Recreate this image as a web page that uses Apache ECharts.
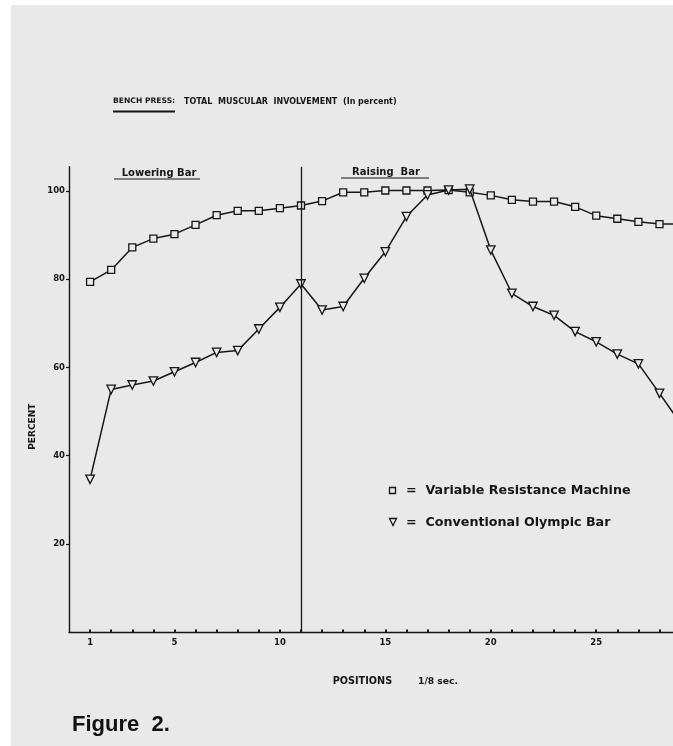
<!DOCTYPE html>
<html>
<head>
<meta charset="utf-8">
<script src="https://cdn.jsdelivr.net/npm/echarts@6/dist/echarts.min.js"></script>
<style>
html,body{margin:0;padding:0;background:#ffffff;}
#chart{width:673px;height:746px;}
</style>
</head>
<body>
<div id="chart"></div>
<script>
// ---- data ----
const positions = [1,2,3,4,5,6,7,8,9,10,11,12,13,14,15,16,17,18,19,20,21,22,23,24,25,26,27,28,29];
const variableResistance = [79.4,82.1,87.2,89.2,90.2,92.3,94.5,95.5,95.5,96.1,96.7,97.7,99.7,99.7,100.1,100.1,100.1,100.2,99.7,99.0,98.0,97.6,97.6,96.4,94.4,93.7,93.0,92.5,92.5];
const olympicBar = [34.6,55.0,56.0,56.9,59.0,61.1,63.4,63.8,68.7,73.6,78.9,73.0,73.8,80.2,86.2,94.2,99.1,100.2,100.4,86.6,76.8,73.8,71.8,68.1,65.8,63.0,60.8,54.1,47.3];
const seriesNames = ['Variable Resistance Machine', 'Conventional Olympic Bar'];
const xTickValues = [1,2,3,4,5,6,7,8,9,10,11,12,13,14,15,16,17,18,19,20,21,22,23,24,25,26,27,28];
const xLabelValues = [1,5,10,15,20,25];
const yTickValues = [20,40,60,80,100];
const phaseSplit = 11;

const ink = '#161616';
const paper = '#e9e9e9';
const font = 'DejaVu Sans';

const chart = echarts.init(document.getElementById('chart'), null, {renderer:'canvas'});

function pairs(vals){ return positions.map((p,i)=>[p, vals[i]]); }

const option = {
  animation: false,
  backgroundColor: paper,
  grid: {left: 69, right: 0, top: 166.7, bottom: 114, containLabel: false},
  xAxis: {
    type: 'value', min: 0, max: 28.64,
    axisLine: {show: true, onZero: false, lineStyle: {color: ink, width: 1.4}},
    axisTick: {show: true, inside: true, length: 2.5, customValues: xTickValues, lineStyle: {color: ink, width: 2}},
    axisLabel: {show: true, customValues: xLabelValues, margin: 6, color: ink, fontFamily: font, fontWeight: 'bold', fontSize: 8.5},
    splitLine: {show: false}
  },
  yAxis: {
    type: 'value', min: 0, max: 105.5,
    axisLine: {show: true, lineStyle: {color: ink, width: 1.4}},
    axisTick: {show: true, inside: false, length: 3, customValues: yTickValues, lineStyle: {color: ink, width: 1.2}},
    axisLabel: {show: true, customValues: yTickValues, margin: 4, color: ink, fontFamily: font, fontWeight: 'bold', fontSize: 8.5},
    splitLine: {show: false}
  },
  series: [
    {
      name: seriesNames[0], type: 'line', data: pairs(variableResistance),
      symbol: 'rect', symbolSize: 7, showAllSymbol: true,
      lineStyle: {color: ink, width: 1.5},
      itemStyle: {color: paper, borderColor: ink, borderWidth: 1.3},
      z: 3,
      markLine: {
        silent: true, symbol: ['none','none'], label: {show: false},
        lineStyle: {color: ink, width: 1.3, type: 'solid'},
        data: [{xAxis: phaseSplit}]
      }
    },
    {
      name: seriesNames[1], type: 'line', data: pairs(olympicBar),
      symbol: 'triangle', symbolRotate: 180, symbolSize: 8.5, showAllSymbol: true,
      lineStyle: {color: ink, width: 1.5},
      itemStyle: {color: paper, borderColor: ink, borderWidth: 1.3},
      z: 4
    }
  ],
  graphic: [
    {type: 'rect', shape: {x: 0, y: 0, width: 11, height: 746}, style: {fill: '#ffffff'}, z: -1, silent: true},
    {type: 'rect', shape: {x: 0, y: 0, width: 673, height: 5}, style: {fill: '#ffffff'}, z: -1, silent: true},
    // title
    {type: 'text', x: 113, y: 101.5, style: {text: 'BENCH PRESS:', font: 'bold 7.6px "DejaVu Sans"', fill: ink, verticalAlign: 'middle'}},
    {type: 'line', shape: {x1: 113, y1: 111.5, x2: 175, y2: 111.5}, style: {stroke: ink, lineWidth: 2}},
    {type: 'text', x: 184, y: 101.5, style: {text: 'TOTAL  MUSCULAR  INVOLVEMENT', font: 'bold 8px "DejaVu Sans"', fill: ink, verticalAlign: 'middle'}},
    {type: 'text', x: 343, y: 101.5, style: {text: '(In percent)', font: 'bold 8px "DejaVu Sans"', fill: ink, verticalAlign: 'middle'}},
    // phase labels
    {type: 'text', x: 159, y: 173.5, style: {text: 'Lowering Bar', font: 'bold 10px "DejaVu Sans"', fill: ink, align: 'center', verticalAlign: 'middle'}},
    {type: 'line', shape: {x1: 114, y1: 179, x2: 200, y2: 179}, style: {stroke: ink, lineWidth: 1.2}},
    {type: 'text', x: 386, y: 172.5, style: {text: 'Raising  Bar', font: 'bold 10px "DejaVu Sans"', fill: ink, align: 'center', verticalAlign: 'middle'}},
    {type: 'line', shape: {x1: 341, y1: 178, x2: 429, y2: 178}, style: {stroke: ink, lineWidth: 1.2}},
    // y axis name
    {type: 'text', x: 32.7, y: 426.7, rotation: Math.PI/2, style: {text: 'PERCENT', font: 'bold 9px "DejaVu Sans"', fill: ink, align: 'center', verticalAlign: 'middle'}},
    // x axis name
    {type: 'text', x: 332.7, y: 681.7, style: {text: 'POSITIONS', font: 'bold 9.7px "DejaVu Sans"', fill: ink, verticalAlign: 'middle'}},
    {type: 'text', x: 418, y: 681.7, style: {text: '1/8 sec.', font: 'bold 9.2px "DejaVu Sans"', fill: ink, verticalAlign: 'middle'}},
    // legend
    {type: 'rect', shape: {x: 389.5, y: 487.5, width: 6, height: 6}, style: {fill: paper, stroke: ink, lineWidth: 1.3}},
    {type: 'text', x: 406, y: 491, style: {text: '=  ' + seriesNames[0], font: 'bold 12.7px "DejaVu Sans"', fill: ink, verticalAlign: 'middle'}},
    {type: 'polygon', shape: {points: [[389.5, 518.5], [396.5, 518.5], [393, 525.5]]}, style: {fill: paper, stroke: ink, lineWidth: 1.3}},
    {type: 'text', x: 406, y: 522.3, style: {text: '=  ' + seriesNames[1], font: 'bold 12.7px "DejaVu Sans"', fill: ink, verticalAlign: 'middle'}},
    // figure caption
    {type: 'text', x: 72, y: 724.5, style: {text: 'Figure  2.', font: 'bold 22px "Liberation Sans"', fill: '#111111', verticalAlign: 'middle'}}
  ]
};
chart.setOption(option);
</script>
</body>
</html>
